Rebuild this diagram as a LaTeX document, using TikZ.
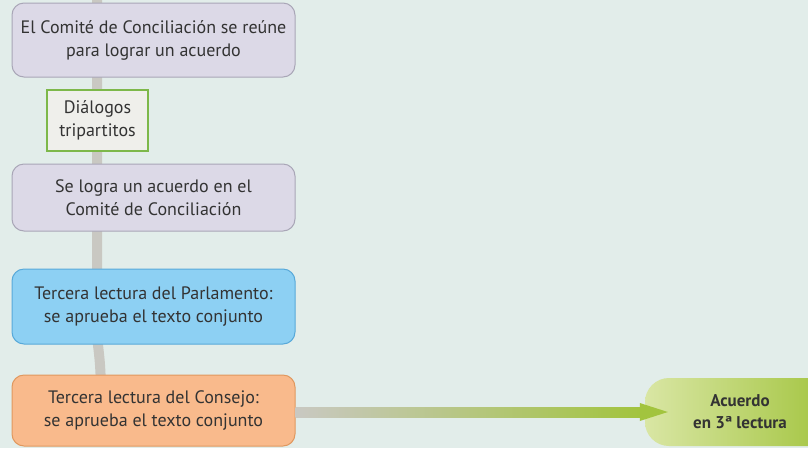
\documentclass[tikz,border=0pt]{standalone}
\usepackage{fontspec}
\setmainfont{PT Sans}
\definecolor{bg}{HTML}{E2EDEA}
\definecolor{lav}{HTML}{DCD9E7}
\definecolor{lavb}{HTML}{A9A6B7}
\definecolor{dlg}{HTML}{EFEFEB}
\definecolor{dlgb}{HTML}{7DB84A}
\definecolor{blu}{HTML}{8DD0F3}
\definecolor{blub}{HTML}{58A9D9}
\definecolor{ora}{HTML}{F9BA8C}
\definecolor{orab}{HTML}{E0985F}
\definecolor{bar}{HTML}{C9C8C2}
\definecolor{grn}{HTML}{A2C43E}
\definecolor{grnl}{HTML}{D9E6A4}
\definecolor{txt}{HTML}{333333}
\tikzset{
  stepbox/.style={draw, line width=1pt, rounded corners=12pt, minimum width=283pt,
    align=center, font=\fontsize{18}{23}\selectfont, text=txt, inner sep=0pt},
  lavbox/.style={stepbox, fill=lav, draw=lavb},
  blubox/.style={stepbox, fill=blu, draw=blub},
  orabox/.style={stepbox, fill=ora, draw=orab},
  dlgbox/.style={draw=dlgb, fill=dlg, line width=1.2pt, minimum width=101pt, minimum height=61pt,
    align=center, font=\fontsize{18}{23}\selectfont, text=txt, inner sep=0pt},
  endbox/.style={rounded corners=24pt, left color=grnl, right color=grn, minimum width=190pt,
    minimum height=68pt, align=center, font=\bfseries\fontsize{17}{22}\selectfont, text=txt, inner sep=0pt},
  vbar/.style={draw=bar, line width=10pt},
}
\begin{document}
\begin{tikzpicture}[x=1pt,y=-1pt]
\useasboundingbox (0,0) rectangle (808,448);
\clip (0,0) rectangle (808,448);
\fill[bg] (0,0) rectangle (808,448);
\coordinate (top) at (97,-5);
% vertical connectors (drawn first, under the boxes)
\coordinate (b1) at (97,40);
\coordinate (b2) at (97,197.5);
\coordinate (b3) at (97,306.5);
\coordinate (b4) at (101,400);
\draw[vbar] (top) -- (b1) -- (b2) -- (b3) -- (97,325) .. controls (97,352) and (101,350) .. (b4);
% nodes
\node[lavbox, minimum height=74pt] (c1) at (153.5,40) {El Comité de Conciliación se reúne\\para lograr un acuerdo};
\node[dlgbox] (d) at (97.5,120.5) {Diálogos\\tripartitos};
\node[lavbox, minimum height=67pt] (c2) at (153.5,197.5) {Se logra un acuerdo en el\\Comité de Conciliación};
\node[blubox, minimum height=75pt] (c3) at (153.5,306.5) {Tercera lectura del Parlamento:\\se aprueba el texto conjunto};
\node[orabox, minimum height=71pt] (c4) at (153.5,410.5) {Tercera lectura del Consejo:\\se aprueba el texto conjunto};
\node[endbox] (fin) at (740,412) {Acuerdo\\en 3ª lectura};
% horizontal arrow from c4 to fin
\coordinate (hs) at (c4.east |- 0,412);
\coordinate (he) at (fin.west |- 0,412);
\shade[left color=bar, right color=grn] ([yshift=-5pt]hs) rectangle ([xshift=-4pt,yshift=5pt]he);
\fill[grn] ([xshift=-5pt,yshift=-9pt]he) -- ([xshift=23pt]he) -- ([xshift=-5pt,yshift=9pt]he) -- cycle;
\end{tikzpicture}
\end{document}
